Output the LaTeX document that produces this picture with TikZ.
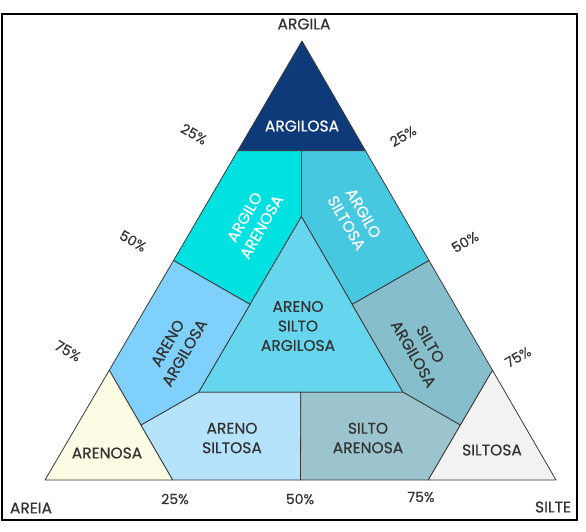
\documentclass[tikz,border=0pt]{standalone}
\usepackage{fontspec}
\setmainfont{Poppins}[FakeBold=0.5]
\definecolor{txt}{RGB}{51,51,51}
\definecolor{edge}{RGB}{58,58,58}
\definecolor{cArgilosa}{RGB}{14,58,122}
\definecolor{cArgAren}{RGB}{0,226,226}
\definecolor{cArgSilt}{RGB}{70,200,225}
\definecolor{cInner}{RGB}{102,214,238}
\definecolor{cArenArg}{RGB}{128,208,252}
\definecolor{cSiltArg}{RGB}{134,190,203}
\definecolor{cArenosa}{RGB}{253,252,228}
\definecolor{cArenSilt}{RGB}{180,227,251}
\definecolor{cSiltAren}{RGB}{156,196,206}
\definecolor{cSiltosa}{RGB}{242,242,242}
\tikzset{
  region/.style={draw=edge, line width=0.8pt, line join=round},
  lab/.style={text=txt, font=\fontsize{15.5}{19.5}\selectfont, align=center, inner sep=0pt},
  wlab/.style={lab, text=white},
  pct/.style={text=txt, font=\fontsize{14}{16}\selectfont, inner sep=0pt},
}
\begin{document}
\begin{tikzpicture}[x=1pt,y=-1pt]
\fill[white] (0,0) rectangle (586,531);
\useasboundingbox (0,0) rectangle (586,531);
\draw[line width=2.5pt, black] (2,14) rectangle (577,520);
% regions
\filldraw[region, fill=cArgilosa] (302,41) -- (237.75,150.75) -- (365.5,150.75) -- cycle;
\filldraw[region, fill=cArgAren] (237.75,150.75) -- (301.6,150.75) -- (301.4,216.6) -- (250,304.4) -- (173.5,260.5) -- cycle;
\filldraw[region, fill=cArgSilt] (301.6,150.75) -- (365.5,150.75) -- (429,260.5) -- (352.2,304.4) -- (301.4,216.6) -- cycle;
\filldraw[region, fill=cInner] (301.4,216.6) -- (198.6,392.2) -- (403,392.2) -- cycle;
\filldraw[region, fill=cArenArg] (173.5,260.5) -- (250,304.4) -- (198.6,392.2) -- (141,425.1) -- (109.25,370.25) -- cycle;
\filldraw[region, fill=cSiltArg] (429,260.5) -- (492.5,370.25) -- (460.4,425.1) -- (403,392.2) -- (352.2,304.4) -- cycle;
\filldraw[region, fill=cArenosa] (45,480) -- (109.25,370.25) -- (172.75,480) -- cycle;
\filldraw[region, fill=cArenSilt] (141,425.1) -- (198.6,392.2) -- (300.8,392.2) -- (300.5,480) -- (172.75,480) -- cycle;
\filldraw[region, fill=cSiltAren] (300.8,392.2) -- (403,392.2) -- (460.4,425.1) -- (428.25,480) -- (300.5,480) -- cycle;
\filldraw[region, fill=cSiltosa] (428.25,480) -- (492.5,370.25) -- (556,480) -- cycle;
% region labels
\node[wlab] (argilosa) at (302,126) {ARGILOSA};
\node[wlab, rotate=60] (argaren) at (253,222) {ARGILO\\ARENOSA};
\node[wlab, rotate=-60] (argsilt) at (355,218) {ARGILO\\SILTOSA};
\node[lab] (inner) at (298,326) {ARENO\\SILTO\\ARGILOSA};
\node[lab, rotate=60] (arenarg) at (176,348) {ARENO\\ARGILOSA};
\node[lab, rotate=-60] (siltarg) at (422,349) {SILTO\\ARGILOSA};
\node[lab] (arenosa) at (107,453) {ARENOSA};
\node[lab] (arensilt) at (232,438) {ARENO\\SILTOSA};
\node[lab] (siltaren) at (368,438) {SILTO\\ARENOSA};
\node[lab] (siltosa) at (492,450) {SILTOSA};
% axis labels
\node[lab] (argila) at (304,24) {ARGILA};
\node[lab] (areia) at (31,508) {AREIA};
\node[lab] (silte) at (553,507) {SILTE};
% percentages
\node[pct, rotate=-30] (l25) at (194,134) {25\%};
\node[pct, rotate=-30] (l50) at (133,241) {50\%};
\node[pct, rotate=-30] (l75) at (68,351) {75\%};
\node[pct, rotate=30] (r25) at (403,136) {25\%};
\node[pct, rotate=30] (r50) at (465,242) {50\%};
\node[pct, rotate=30] (r75) at (518,357) {75\%};
\node[pct] (b25) at (175,499) {25\%};
\node[pct] (b50) at (300,499) {50\%};
\node[pct] (b75) at (421,497) {75\%};
\end{tikzpicture}
\end{document}
